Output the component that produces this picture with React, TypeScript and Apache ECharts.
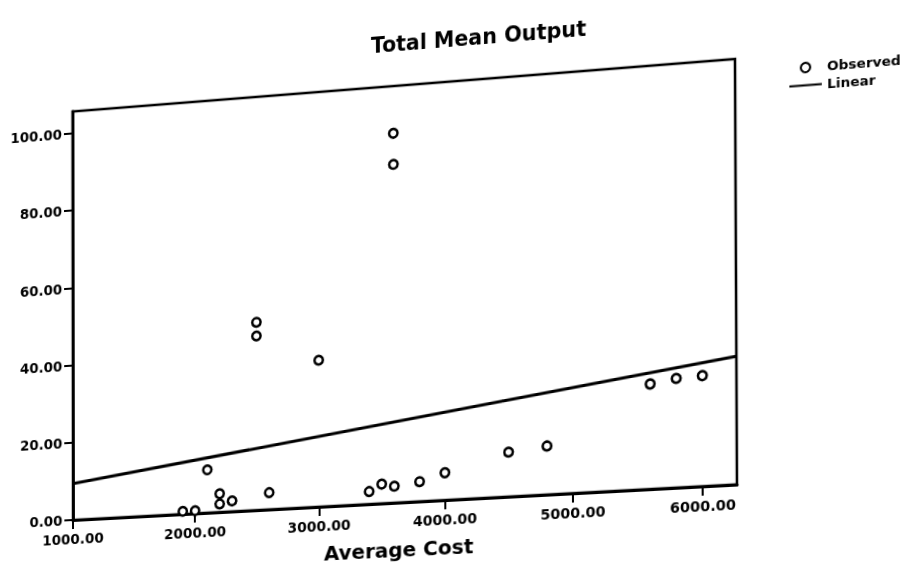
import React, { useEffect, useRef } from "react";
import * as echarts from "echarts";

// Observed points (Average Cost, Total Mean Output)
const costValues = [1900, 2000, 2100, 2200, 2200, 2300, 2600, 2500, 2500, 3000, 3600, 3600, 3400, 3500, 3600, 3800, 4000, 4500, 4800, 5600, 5800, 6000];
const outputValues = [0.7, 0.7, 11.0, 4.7, 2.1, 2.7, 4.3, 48.0, 44.5, 37.3, 93.7, 85.8, 3.2, 4.9, 4.2, 5.0, 6.9, 11.2, 12.2, 26.2, 27.2, 27.5];

// Linear fit line end points
const linearCost = [1000, 6260];
const linearOutput = [9.4, 31.8];

// Axis ticks
const xTicks = [1000, 2000, 3000, 4000, 5000, 6000];
const yTicks = [0, 20, 40, 60, 80, 100];
const xRange = [1000, 6260];
const yRange = [0, 105.7];

// Layout: plot rectangle and where the scanned page shows it
const PLOT = { x: 73, y: 110, w: 664, h: 408 };
const QUAD = [
  [72.5, 111.5], // top-left
  [735, 59], // top-right
  [737, 484.5], // bottom-right
  [73, 520], // bottom-left
];

function homographyCss(): string {
  const [[x0, y0], [x1, y1], [x2, y2], [x3, y3]] = QUAD;
  const dx1 = x1 - x2, dx2 = x3 - x2, dx3 = x0 - x1 + x2 - x3;
  const dy1 = y1 - y2, dy2 = y3 - y2, dy3 = y0 - y1 + y2 - y3;
  const den = dx1 * dy2 - dx2 * dy1;
  const g = (dx3 * dy2 - dx2 * dy3) / den;
  const h = (dx1 * dy3 - dx3 * dy1) / den;
  const a = x1 - x0 + g * x1, b = x3 - x0 + h * x3, c = x0;
  const d = y1 - y0 + g * y1, e = y3 - y0 + h * y3, f = y0;
  const { x: X0, y: Y0, w: W, h: H } = PLOT;
  const m00 = a / W, m01 = b / H, m02 = -a * X0 / W - b * Y0 / H + c;
  const m10 = d / W, m11 = e / H, m12 = -d * X0 / W - e * Y0 / H + f;
  const m20 = g / W, m21 = h / H, m22 = -g * X0 / W - h * Y0 / H + 1;
  return `matrix3d(${m00},${m10},0,${m20},${m01},${m11},0,${m21},0,0,1,0,${m02},${m12},0,${m22})`;
}

const FONT = "DejaVu Sans";

export default function App() {
  const ref = useRef<HTMLDivElement>(null);
  useEffect(() => {
    if (!ref.current) return;
    const chart = echarts.init(ref.current, null, { renderer: "svg" });
    const fmt = (v: number) => v.toFixed(2);
    const labelStyle = { fontFamily: FONT, fontWeight: "bold" as const, fontSize: 14, color: "#000" };
    chart.setOption({
      animation: false,
      backgroundColor: "#fff",
      textStyle: { fontFamily: FONT },
      title: {
        text: "Total Mean Output",
        left: 379,
        top: 58,
        padding: 0,
        textStyle: { fontFamily: FONT, fontWeight: "bold", fontSize: 20.5, color: "#000" },
      },
      legend: {
        orient: "vertical",
        left: 783,
        top: 112,
        itemWidth: 31,
        itemHeight: 9,
        itemGap: 4,
        textStyle: { fontFamily: FONT, fontWeight: "bold", fontSize: 13, color: "#000" },
        data: [
          { name: "Observed" },
          { name: "Linear", itemStyle: { opacity: 0, borderWidth: 0 } },
        ],
      },
      grid: {
        left: PLOT.x,
        top: PLOT.y,
        width: PLOT.w,
        height: PLOT.h,
        outerBoundsMode: "none",
        containLabel: false,
        show: true,
        borderColor: "#000",
        borderWidth: 2.5,
        backgroundColor: "transparent",
      },
      xAxis: {
        type: "value",
        min: xRange[0],
        max: xRange[1],
        interval: 1000,
        name: "Average Cost",
        nameLocation: "middle",
        nameGap: 36,
        nameTextStyle: { fontFamily: FONT, fontWeight: "bold", fontSize: 20, color: "#000" },
        axisLine: { lineStyle: { color: "#000", width: 3 } },
        axisTick: { length: 9, lineStyle: { color: "#000", width: 2 }, customValues: xTicks },
        axisLabel: { ...labelStyle, margin: 12, formatter: fmt, customValues: xTicks },
        splitLine: { show: false },
      },
      yAxis: {
        type: "value",
        min: yRange[0],
        max: yRange[1],
        interval: 20,
        axisLine: { lineStyle: { color: "#000", width: 3 } },
        axisTick: { length: 9, lineStyle: { color: "#000", width: 2 }, customValues: yTicks },
        axisLabel: { ...labelStyle, margin: 11, formatter: fmt, customValues: yTicks },
        splitLine: { show: false },
      },
      series: [
        {
          name: "Observed",
          type: "scatter",
          symbol: "circle",
          symbolSize: 8.5,
          itemStyle: { color: "#fff", borderColor: "#000", borderWidth: 2.5, opacity: 1 },
          data: costValues.map((c, i) => [c, outputValues[i]]),
          z: 3,
        },
        {
          name: "Linear",
          type: "line",
          symbol: "none",
          lineStyle: { color: "#000", width: 3 },
          itemStyle: { color: "#000" },
          data: linearCost.map((c, i) => [c, linearOutput[i]]),
          z: 2,
        },
      ],
    });
    return () => chart.dispose();
  }, []);
  return (
    <div
      style={{
        position: "fixed",
        left: 0,
        top: 0,
        width: 905,
        height: 564,
        overflow: "hidden",
        background: "#fff",
      }}
    >
      <div
        ref={ref}
        style={{
          position: "absolute",
          left: 0,
          top: 0,
          width: 905,
          height: 640,
          transformOrigin: "0 0 0",
          transform: homographyCss(),
        }}
      />
    </div>
  );
}
